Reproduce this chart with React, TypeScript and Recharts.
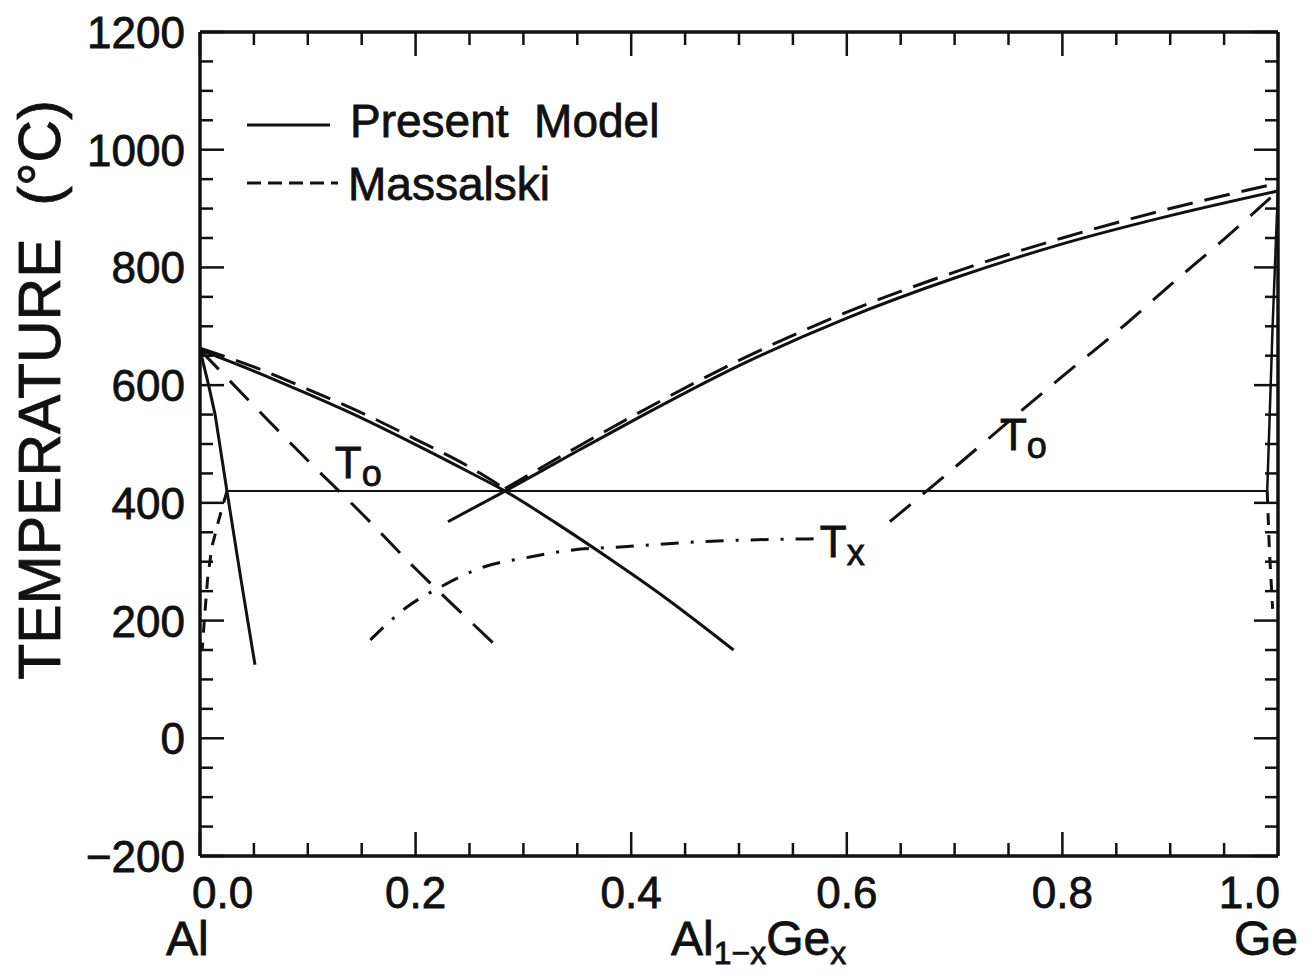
import React from "react";
import { LineChart, Line, XAxis, YAxis, ReferenceDot } from "recharts";

const FONT = "'Liberation Sans', Arial, Helvetica, sans-serif";
const INK = "#111";

// axis ticks: composition x (Ge fraction) and temperature
const compTicks = [0, 0.05, 0.1, 0.15, 0.2, 0.25, 0.3, 0.35, 0.4, 0.45, 0.5, 0.55, 0.6, 0.65, 0.7, 0.75, 0.8, 0.85, 0.9, 0.95, 1];
const compLabels = [0, 0.2, 0.4, 0.6, 0.8, 1];
const tempTicks = [-200, -150, -100, -50, 0, 50, 100, 150, 200, 250, 300, 350, 400, 450, 500, 550, 600, 650, 700, 750, 800, 850, 900, 950, 1000, 1050, 1100, 1150, 1200];
const tempLabels = [-200, 0, 200, 400, 600, 800, 1000, 1200];

// Present model (solid)
const alLiquidus = [
    { x: 0, t: 660 }, { x: 0.05, t: 624 }, { x: 0.1, t: 585 }, { x: 0.15, t: 544 },
    { x: 0.2, t: 499 }, { x: 0.25, t: 452 }, { x: 0.283, t: 420 }, { x: 0.33, t: 366 },
    { x: 0.38, t: 305 }, { x: 0.43, t: 241 }, { x: 0.495, t: 150 },
];
const geLiquidus = [
    { x: 0.23, t: 368 }, { x: 0.283, t: 420 }, { x: 0.35, t: 488 }, { x: 0.4, t: 538 },
    { x: 0.5, t: 633 }, { x: 0.6, t: 714 }, { x: 0.7, t: 782 }, { x: 0.8, t: 840 },
    { x: 0.9, t: 888 }, { x: 1, t: 930 },
];
const alSolvus = [
    { x: 0, t: 660 }, { x: 0.008, t: 600 }, { x: 0.014, t: 550 }, { x: 0.025, t: 420 },
    { x: 0.038, t: 270 }, { x: 0.051, t: 125 },
];
const geSolidus = [{ x: 1, t: 935 }, { x: 0.995, t: 700 }, { x: 0.99, t: 420 }];
const eutectic = [{ x: 0.025, t: 420 }, { x: 0.99, t: 420 }];

// Massalski (dashed)
const alLiquidusM = [
    { x: 0, t: 663 }, { x: 0.05, t: 631 }, { x: 0.1, t: 593 }, { x: 0.15, t: 553 },
    { x: 0.2, t: 508 }, { x: 0.25, t: 461 }, { x: 0.283, t: 424 },
];
const geLiquidusM = [
    { x: 0.283, t: 424 }, { x: 0.35, t: 495 }, { x: 0.4, t: 546 }, { x: 0.5, t: 642 },
    { x: 0.6, t: 724 }, { x: 0.7, t: 792 }, { x: 0.8, t: 850 }, { x: 0.9, t: 900 }, { x: 1, t: 943 },
];
const alSolvusM = [
    { x: 0.025, t: 420 }, { x: 0.017, t: 368 }, { x: 0.011, t: 325 }, { x: 0.007, t: 270 },
    { x: 0.004, t: 200 }, { x: 0.002, t: 150 },
];
const geSolvusM = [{ x: 0.99, t: 420 }, { x: 0.992, t: 320 }, { x: 0.995, t: 220 }];

// T0 curves (dashed) and Tx (dash-dot)
const t0Al = [
    { x: 0, t: 660 }, { x: 0.05, t: 565 }, { x: 0.1, t: 472 }, { x: 0.15, t: 382 },
    { x: 0.2, t: 288 }, { x: 0.25, t: 200 }, { x: 0.28, t: 148 },
];
const t0Ge = [
    { x: 0.64, t: 368 }, { x: 0.7, t: 460 }, { x: 0.75, t: 538 }, { x: 0.8, t: 615 },
    { x: 0.85, t: 690 }, { x: 0.9, t: 770 }, { x: 0.95, t: 848 }, { x: 1, t: 930 },
];
const tx = [
    { x: 0.158, t: 167 }, { x: 0.192, t: 223 }, { x: 0.223, t: 257 }, { x: 0.263, t: 291 },
    { x: 0.306, t: 308 }, { x: 0.346, t: 320 }, { x: 0.39, t: 325 }, { x: 0.464, t: 334 },
    { x: 0.574, t: 339 },
];

const curveTags = [
    { x: 0.125, t: 442, main: "T", sub: "o" },
    { x: 0.742, t: 490, main: "T", sub: "o" },
    { x: 0.575, t: 308, main: "T", sub: "x" },
];

const legendLabels = ["Present  Model", "Massalski"];

const MASS_DASH = "26 12";
const T0_DASH = "27 16";
const TX_DASH = "18 12 3 12";

const series = [
    { id: "alLiq", data: alLiquidus, w: 3, smooth: true },
    { id: "geLiq", data: geLiquidus, w: 3, smooth: true },
    { id: "alSol", data: alSolvus, w: 3 },
    { id: "geSol", data: geSolidus, w: 2.5 },
    { id: "eut", data: eutectic, w: 2 },
    { id: "alLiqM", data: alLiquidusM, w: 3, dash: MASS_DASH, smooth: true },
    { id: "geLiqM", data: geLiquidusM, w: 3, dash: MASS_DASH, smooth: true },
    { id: "alSolM", data: alSolvusM, w: 3, dash: "12 10" },
    { id: "geSolM", data: geSolvusM, w: 3, dash: "12 10" },
    { id: "t0Al", data: t0Al, w: 3, dash: T0_DASH, smooth: true },
    { id: "t0Ge", data: t0Ge, w: 3, dash: T0_DASH, smooth: true },
    { id: "tx", data: tx, w: 3, dash: TX_DASH, smooth: true },
];

const textStyle = { fontFamily: FONT, fill: INK, stroke: INK, strokeWidth: 0.8 };

function BottomTick(props: any) {
    const { x, y, payload } = props;
    const v = payload.value;
    const major = compLabels.includes(v);
    let anchor: "start" | "middle" | "end" = "middle";
    let tx = x;
    if (v === 0) { anchor = "start"; tx = x - 8; }
    if (v === 1) { anchor = "end"; tx = x + 2; }
    return (
        <g>
            <line x1={x} y1={y} x2={x} y2={y - (major ? 24 : 13)} stroke={INK} strokeWidth={2.5} />
            {major && (
                <text x={tx} y={y + 52} textAnchor={anchor} fontSize={44} {...textStyle}>{v.toFixed(1)}</text>
            )}
        </g>
    );
}

function TopTick(props: any) {
    const { x, y, payload } = props;
    const major = compLabels.includes(payload.value);
    return <line x1={x} y1={y} x2={x} y2={y + (major ? 24 : 13)} stroke={INK} strokeWidth={2.5} />;
}

function LeftTick(props: any) {
    const { x, y, payload } = props;
    const v = payload.value;
    const major = tempLabels.includes(v);
    return (
        <g>
            <line x1={x} y1={y} x2={x + (major ? 24 : 13)} y2={y} stroke={INK} strokeWidth={2.5} />
            {major && (
                <text x={x - 15} y={y + 16} textAnchor="end" fontSize={44} {...textStyle}>
                    {v < 0 ? `\u2212${-v}` : String(v)}
                </text>
            )}
        </g>
    );
}

function RightTick(props: any) {
    const { x, y, payload } = props;
    const major = tempLabels.includes(payload.value);
    return <line x1={x} y1={y} x2={x - (major ? 24 : 13)} y2={y} stroke={INK} strokeWidth={2.5} />;
}

function XTitle(props: any) {
    const { x, y, width } = props.viewBox;
    const base = y + 99;
    return (
        <g>
            <text x={x - 34} y={base} fontSize={48} {...textStyle}>Al</text>
            <text x={x + width / 2 - 68} y={base} fontSize={48} {...textStyle}>
                Al<tspan fontSize={32} dy={9}>1−x</tspan><tspan fontSize={48} dy={-9}>Ge</tspan><tspan fontSize={32} dy={9}>x</tspan>
            </text>
            <text x={x + width + 20} y={base} textAnchor="end" fontSize={48} {...textStyle}>Ge</text>
        </g>
    );
}

function YTitle(props: any) {
    const { x, y } = props.viewBox;
    const cx = x + 60;
    const cy = y + 358;
    return (
        <text x={cx} y={cy} transform={`rotate(-90 ${cx} ${cy})`} textAnchor="middle" fontSize={59}
            style={{ whiteSpace: "pre" }} {...textStyle}>
            TEMPERATURE  (°C)
        </text>
    );
}

function Tag({ viewBox, main, sub }: any) {
    return (
        <text x={viewBox.x} y={viewBox.y} fontSize={44} {...textStyle}>
            {main}<tspan fontSize={36} dy={8}>{sub}</tspan>
        </text>
    );
}

function LegendBox() {
    const rows = [
        { label: legendLabels[0], dash: undefined, ly: 125, ty: 137, x2: 330, tx: 350 },
        { label: legendLabels[1], dash: "14 7", ly: 183, ty: 200, x2: 338, tx: 348 },
    ];
    return (
        <svg width={1313} height={974} style={{ position: "absolute", left: 0, top: 0, pointerEvents: "none" }}>
            {rows.map((r) => (
                <g key={r.label}>
                    <line x1={247} y1={r.ly} x2={r.x2} y2={r.ly} stroke={INK} strokeWidth={3} strokeDasharray={r.dash} />
                    <text x={r.tx} y={r.ty} fontSize={46} style={{ whiteSpace: "pre" }} {...textStyle}>{r.label}</text>
                </g>
            ))}
        </svg>
    );
}

export default function App() {
    const axisLine = { stroke: INK, strokeWidth: 3.5 };
    return (
        <div style={{ position: "absolute", left: 0, top: 0, width: 1313, height: 974, background: "#fff" }}>
            <LineChart width={1313} height={974} margin={{ top: 0, right: 0, bottom: 0, left: 0 }}>
                <XAxis xAxisId="b" type="number" dataKey="x" domain={[0, 1]} allowDataOverflow
                    ticks={compTicks} interval={0} tickSize={0} tickMargin={0} height={118}
                    tick={<BottomTick />} axisLine={axisLine} tickLine={false} label={XTitle} />
                <XAxis xAxisId="t" orientation="top" type="number" dataKey="x" domain={[0, 1]} allowDataOverflow
                    ticks={compTicks} interval={0} tickSize={0} tickMargin={0} height={32}
                    tick={<TopTick />} axisLine={axisLine} tickLine={false} />
                <YAxis yAxisId="l" type="number" domain={[-200, 1200]} allowDataOverflow
                    ticks={tempTicks} interval={0} tickSize={0} tickMargin={0} width={200}
                    tick={<LeftTick />} axisLine={axisLine} tickLine={false} label={YTitle} />
                <YAxis yAxisId="r" orientation="right" type="number" domain={[-200, 1200]} allowDataOverflow
                    ticks={tempTicks} interval={0} tickSize={0} tickMargin={0} width={35}
                    tick={<RightTick />} axisLine={axisLine} tickLine={false} />
                {series.map((s) => (
                    <Line key={s.id} xAxisId="b" yAxisId="l" data={s.data} dataKey="t"
                        type={s.smooth ? "monotone" : "linear"}
                        stroke={INK} strokeWidth={s.w} strokeDasharray={s.dash} dot={false}
                        activeDot={false} isAnimationActive={false} />
                ))}
                {curveTags.map((c, i) => (
                    <ReferenceDot key={i} xAxisId="b" yAxisId="l" x={c.x} y={c.t} r={1} fill="none" stroke="none"
                        label={(p: any) => <Tag viewBox={{ x: p.viewBox.x + 1, y: p.viewBox.y + 1 }} main={c.main} sub={c.sub} />} />
                ))}
            </LineChart>
            <LegendBox />
        </div>
    );
}
